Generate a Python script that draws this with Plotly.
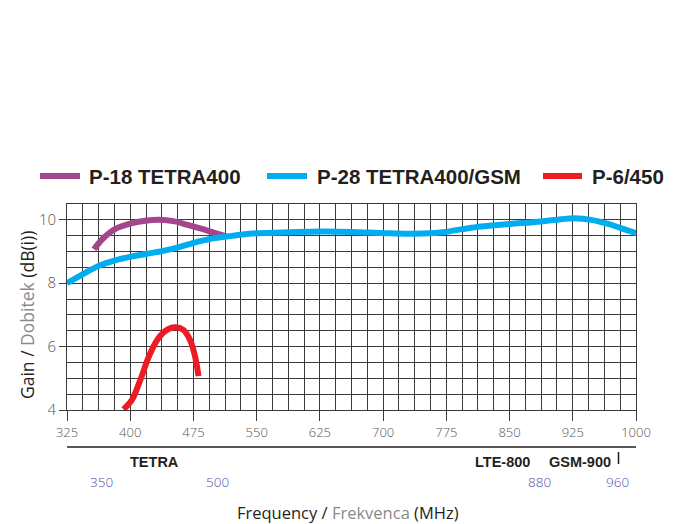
import plotly.graph_objects as go

# Antenna gain curves, frequency in MHz, gain in dB(i)
p18_freq = [357, 368, 382, 401, 420, 435, 451, 467, 483, 499, 515]
p18_gain = [9.07, 9.42, 9.71, 9.89, 9.98, 10.0, 9.96, 9.85, 9.73, 9.60, 9.47]

p28_freq = [325, 344, 363, 382, 401, 420, 439, 458, 476, 495, 514, 533, 552, 590,
            626, 662, 701, 737, 768, 792, 816, 851, 887, 911, 927, 947, 967, 982, 1000]
p28_gain = [8.0, 8.29, 8.55, 8.72, 8.84, 8.93, 9.02, 9.14, 9.28, 9.40, 9.47, 9.54, 9.58, 9.61,
            9.63, 9.62, 9.58, 9.56, 9.60, 9.70, 9.79, 9.87, 9.95, 10.02, 10.05, 10.0, 9.87, 9.74, 9.58]

p6_freq = [392, 402, 412, 422, 432, 442, 453, 463, 471, 477, 481]
p6_gain = [4.02, 4.32, 4.95, 5.68, 6.21, 6.50, 6.61, 6.53, 6.21, 5.68, 5.07]

series_names = ["P-18 TETRA400", "P-28 TETRA400/GSM", "P-6/450"]
series_colors = ["#a3468c", "#00aeef", "#ed1c24"]

x_ticks = [325, 400, 475, 550, 625, 700, 775, 850, 925, 1000]
y_ticks = [4, 6, 8, 10]

band_names = ["TETRA", "LTE-800", "GSM-900"]
band_limits = ["350", "500", "880", "960"]

fig = go.Figure()
for fx, gy, color in [(p18_freq, p18_gain, series_colors[0]),
                      (p28_freq, p28_gain, series_colors[1]),
                      (p6_freq, p6_gain, series_colors[2])]:
    fig.add_trace(go.Scatter(x=fx, y=gy, mode="lines",
                             line=dict(color=color, width=6, shape="spline", smoothing=1.0),
                             showlegend=False, hoverinfo="skip"))

grid_col = "#3a3a3a"
tick_font = dict(family="Open Sans", size=13, color="#555555", weight=300)

fig.update_xaxes(range=[325, 1000], tickvals=x_ticks, ticktext=[str(v) for v in x_ticks],
                 showgrid=True, gridcolor=grid_col, gridwidth=1,
                 minor=dict(dtick=18.75, tick0=325, showgrid=True, gridcolor=grid_col, gridwidth=1),
                 ticks="outside", ticklen=10, tickcolor=grid_col, tickwidth=1,
                 showline=True, linecolor=grid_col, linewidth=1, mirror=True,
                 zeroline=False, tickfont=tick_font)
fig.update_yaxes(range=[4, 10.5], tickvals=y_ticks, ticktext=[str(v) for v in y_ticks],
                 showgrid=True, gridcolor=grid_col, gridwidth=1,
                 minor=dict(dtick=0.5, tick0=4, showgrid=True, gridcolor=grid_col, gridwidth=1),
                 ticks="outside", ticklen=7, tickcolor=grid_col, tickwidth=1,
                 showline=True, linecolor=grid_col, linewidth=1, mirror=True,
                 zeroline=False, tickfont=dict(family="Open Sans", size=15, color="#555555", weight=300))

W, H = 674, 524
L, R, T, B = 67, 38, 204, 114
pw, ph = W - L - R, H - T - B


def px_x(px):
    return (px - L) / pw


def px_y(py):
    return (H - B - py) / ph


shapes = []
annotations = []

# Legend: coloured line samples with bold labels
legend_y = px_y(176)
legend_pos = [(40, 80, 87), (267, 307, 315), (543, 582, 590)]
for name, color, (x0, x1, xt) in zip(series_names, series_colors, legend_pos):
    shapes.append(dict(type="line", xref="paper", yref="paper",
                       x0=px_x(x0), x1=px_x(x1), y0=legend_y, y1=legend_y,
                       line=dict(color=color, width=6)))
    annotations.append(dict(xref="paper", yref="paper", x=px_x(xt), y=legend_y,
                            xanchor="left", yanchor="middle", showarrow=False, text=name,
                            font=dict(family="Liberation Sans", size=20.5, color="#231f20", weight="bold")))

# Band strip under the axis
shapes.append(dict(type="line", xref="paper", yref="paper", x0=0, x1=1,
                   y0=px_y(447), y1=px_y(447), line=dict(color="#231f20", width=1.5)))
shapes.append(dict(type="line", xref="paper", yref="paper", x0=px_x(618.5), x1=px_x(618.5),
                   y0=px_y(452), y1=px_y(464), line=dict(color="#231f20", width=1.5)))

for name, cx in zip(band_names, [154.5, 502, 580]):
    annotations.append(dict(xref="paper", yref="paper", x=px_x(cx), y=px_y(462),
                            xanchor="center", yanchor="middle", showarrow=False, text=name,
                            font=dict(family="Liberation Sans", size=14.5, color="#231f20", weight="bold")))
for lab, cx in zip(band_limits, [101, 217, 539.5, 617.5]):
    annotations.append(dict(xref="paper", yref="paper", x=px_x(cx), y=px_y(482),
                            xanchor="center", yanchor="middle", showarrow=False, text=lab,
                            font=dict(family="Open Sans", size=13.5, color="#4f4fa8", weight=300)))

# Axis titles
annotations.append(dict(xref="paper", yref="paper", x=px_x(348), y=px_y(512),
                        xanchor="center", yanchor="middle", showarrow=False,
                        text='Frequency / <span style="color:#8a8a8a">Frekvenca</span> (MHz)',
                        font=dict(family="Open Sans", size=16.5, color="#231f20")))
annotations.append(dict(xref="paper", yref="paper", x=px_x(27), y=px_y(315),
                        xanchor="center", yanchor="middle", showarrow=False, textangle=-90,
                        text='Gain / <span style="color:#8a8a8a">Dobitek</span> (dB(i))',
                        font=dict(family="Open Sans", size=17.5, color="#231f20")))

fig.update_layout(width=W, height=H, margin=dict(l=L, r=R, t=T, b=B),
                  paper_bgcolor="white", plot_bgcolor="white",
                  shapes=shapes, annotations=annotations, showlegend=False)

fig.write_html("out.html")
